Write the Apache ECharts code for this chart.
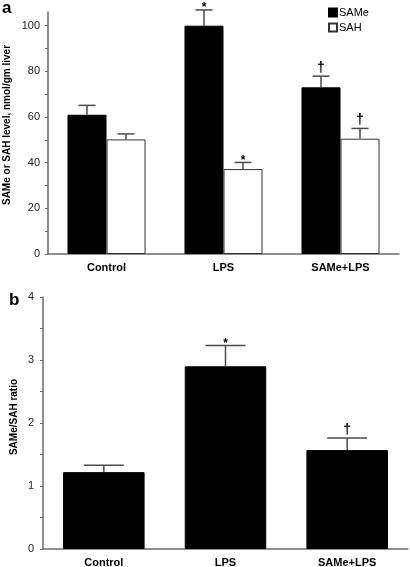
<!DOCTYPE html>
<html><head><meta charset="utf-8">
<script src="https://cdn.jsdelivr.net/npm/echarts@6/dist/echarts.min.js"></script>
<style>html,body{margin:0;padding:0;background:#fff}#c{width:410px;height:567px}</style>
</head><body><div id="c"></div>
<script>
const categories = ['Control', 'LPS', 'SAMe+LPS'];
const sameLevel = [61, 100, 73];
const sameErr = [4.1, 6.9, 4.9];
const sameMarks = ['', '*', '†'];
const sahLevel = [50.2, 37.2, 50.5];
const sahErr = [2.4, 2.9, 4.5];
const sahMarks = ['', '*', '†'];
const ratio = [1.22, 2.9, 1.57];
const ratioErr = [0.11, 0.33, 0.19];
const ratioMarks = ['', '*', '†'];
const yLabelsA = [0, 20, 40, 60, 80, 100];
const yTicksA = [0, 10, 20, 30, 40, 50, 60, 70, 80, 90, 100];
const yLabelsB = [0, 1, 2, 3, 4];
const yTicksB = [0, 0.5, 1, 1.5, 2, 2.5, 3, 3.5, 4];
const yTitleA = 'SAMe or SAH level, nmol/gm liver';
const yTitleB = 'SAMe/SAH ratio';

const FONT = 'Liberation Sans, Arial, sans-serif';
const AX = '#6b6b6b';
const chart = echarts.init(document.getElementById('c'), null, {renderer: 'canvas'});

function errSeries(name, xi, yi, vals, errs, marks, offset, capW) {
  return {
    type: 'custom', name: name, xAxisIndex: xi, yAxisIndex: yi, z: 5,
    data: vals.map((v, i) => [i, v, errs[i]]),
    encode: {x: 0, y: 1},
    renderItem: function (params, api) {
      const i = api.value(0), v = api.value(1), e = api.value(2);
      const band = api.size([1, 0])[0];
      const b = api.coord([i, v]);
      const t = api.coord([i, v + e]);
      const cx = b[0] + offset * band;
      const st = {stroke: '#4a4a4a', lineWidth: 1.5};
      const mk = marks[params.dataIndex];
      const isDag = mk === '†';
      return {
        type: 'group',
        children: [
          {type: 'line', shape: {x1: cx, y1: b[1], x2: cx, y2: t[1]}, style: st},
          {type: 'line', shape: {x1: cx - capW / 2, y1: t[1], x2: cx + capW / 2, y2: t[1]}, style: st},
          {type: 'text', style: {text: mk, x: cx, y: isDag ? t[1] - 1 : t[1] + 4, align: 'center', verticalAlign: 'bottom',
            font: (isDag ? 'bold 14px ' : 'bold 12px ') + FONT, fill: '#000'}}
        ]
      };
    }
  };
}

const option = {
  animation: false,
  backgroundColor: '#fff',
  textStyle: {fontFamily: FONT},
  graphic: [
    {type: 'text', left: 2, top: 0, style: {text: 'a', font: 'bold 17px ' + FONT, fill: '#000'}},
    {type: 'text', left: 9, top: 292, style: {text: 'b', font: 'bold 17px ' + FONT, fill: '#000'}},
    {type: 'text', x: 7, y: 125, rotation: Math.PI / 2,
      style: {text: yTitleA, align: 'center', verticalAlign: 'middle', font: 'bold 10px ' + FONT, fill: '#000'}},
    {type: 'text', x: 14, y: 417, rotation: Math.PI / 2,
      style: {text: yTitleB, align: 'center', verticalAlign: 'middle', font: 'bold 10px ' + FONT, fill: '#000'}}
  ],
  legend: {
    data: ['SAMe', 'SAH'], orient: 'vertical', left: 328, top: 7, padding: 0, itemWidth: 8, itemHeight: 8, itemGap: 4,
    icon: 'rect', textStyle: {fontSize: 11, color: '#000', fontFamily: FONT, padding: [0, 0, 0, -3]}
  },
  grid: [
    {left: 48, top: 12, width: 351, height: 242, containLabel: false, outerBoundsMode: 'none'},
    {left: 43, top: 297, width: 365, height: 252, containLabel: false, outerBoundsMode: 'none'}
  ],
  xAxis: [
    {type: 'category', gridIndex: 0, data: categories, axisTick: {show: false},
      axisLine: {lineStyle: {color: AX, width: 1.5}},
      axisLabel: {fontWeight: 'bold', fontSize: 11, color: '#000', margin: 8, fontFamily: FONT}},
    {type: 'category', gridIndex: 1, data: categories, axisTick: {show: false},
      axisLine: {lineStyle: {color: AX, width: 1.5}},
      axisLabel: {fontWeight: 'bold', fontSize: 11, color: '#000', margin: 8, fontFamily: FONT}}
  ],
  yAxis: [
    {type: 'value', gridIndex: 0, min: 0, max: 106, interval: 10, splitLine: {show: false},
      axisLine: {show: true, lineStyle: {color: AX, width: 1.5}},
      axisTick: {show: true, length: 3, customValues: yTicksA, lineStyle: {color: AX}},
      axisLabel: {customValues: yLabelsA, fontSize: 11, color: '#222', margin: 8, fontFamily: FONT}},
    {type: 'value', gridIndex: 1, min: 0, max: 4, interval: 0.5, splitLine: {show: false},
      axisLine: {show: true, lineStyle: {color: AX, width: 1.5}},
      axisTick: {show: true, length: 3, customValues: yTicksB, lineStyle: {color: AX}},
      axisLabel: {customValues: yLabelsB, fontSize: 11, color: '#222', margin: 9, fontFamily: FONT}}
  ],
  series: [
    {type: 'bar', name: 'SAMe', xAxisIndex: 0, yAxisIndex: 0, data: sameLevel, barGap: '0%', barCategoryGap: '33.3%',
      itemStyle: {color: '#000', borderColor: '#000', borderWidth: 1}},
    {type: 'bar', name: 'SAH', xAxisIndex: 0, yAxisIndex: 0, data: sahLevel, barGap: '0%', barCategoryGap: '33.3%',
      itemStyle: {color: '#fff', borderColor: '#333', borderWidth: 1}},
    errSeries('errSAMe', 0, 0, sameLevel, sameErr, sameMarks, -1 / 6, 17),
    errSeries('errSAH', 0, 0, sahLevel, sahErr, sahMarks, 1 / 6, 17),
    {type: 'bar', name: 'ratio', xAxisIndex: 1, yAxisIndex: 1, data: ratio, barCategoryGap: '33%',
      itemStyle: {color: '#000', borderColor: '#000', borderWidth: 1}},
    errSeries('errRatio', 1, 1, ratio, ratioErr, ratioMarks, 0, 40)
  ]
};
chart.setOption(option);
</script></body></html>
